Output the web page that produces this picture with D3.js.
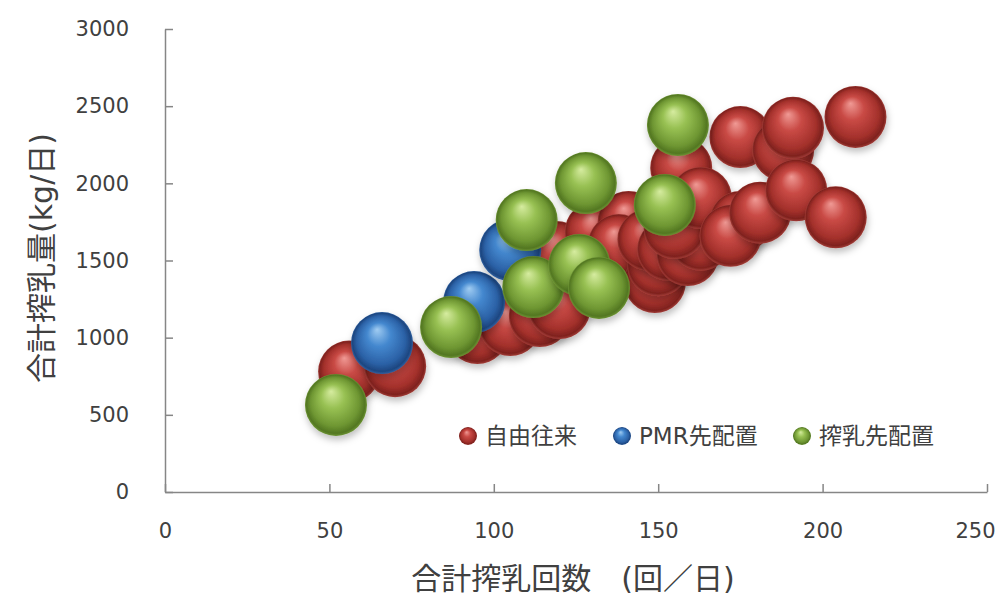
<!DOCTYPE html>
<html>
<head>
<meta charset="utf-8">
<script src="https://cdn.jsdelivr.net/npm/d3@7"></script>
<style>
  html, body { margin: 0; padding: 0; background: #fff; }
  svg { display: block; }
  text { font-family: "DejaVu Sans", "Noto Sans CJK JP", sans-serif; fill: #404040; }
</style>
</head>
<body>
<svg id="chart" width="1005" height="597"></svg>
<script>
// Series names (legend order)
const seriesNames = ["自由往来", "PMR先配置", "搾乳先配置"];

// 自由往来: total milkings per day / total milk yield (kg/day)
const freeX = [56, 70, 95, 105, 114, 120, 119, 131, 141, 138, 149, 150, 147, 153, 159, 163, 155, 157, 163, 175, 172, 175, 181, 188, 191, 192, 204, 210];
const freeY = [780, 815, 1030, 1082, 1140, 1192, 1555, 1685, 1750, 1600, 1360, 1470, 1635, 1570, 1535, 1635, 1710, 2100, 1905, 1750, 1660, 2300, 1810, 2215, 2360, 1955, 1780, 2430];

// PMR先配置
const pmrX = [66, 94, 105];
const pmrY = [965, 1231, 1568];

// 搾乳先配置
const milkX = [52, 87, 112, 110, 128, 126, 132, 152, 156];
const milkY = [564, 1069, 1328, 1762, 2002, 1471, 1322, 1860, 2378];

// Axis ticks and titles
const xTicks = [0, 50, 100, 150, 200, 250];
const yTicks = [0, 500, 1000, 1500, 2000, 2500, 3000];
const xTitle = "合計搾乳回数　(回／日)";
const yTitle = "合計搾乳量(kg/日)";

const svg = d3.select("#chart");
const x = d3.scaleLinear().domain([0, 250]).range([165, 987]);
const y = d3.scaleLinear().domain([0, 3000]).range([492, 29]);
const R = 31;

// Sphere shading per series
const palette = [
  { light: "#f09a95", base: "#c94a45", dark: "#a3302b", edge: "#7f221e", rim: "#a03c37" },
  { light: "#a0ccf2", base: "#4488cf", dark: "#2b61a6", edge: "#1d4680", rim: "#2f60a0" },
  { light: "#d6eca0", base: "#98c153", dark: "#6e9632", edge: "#537722", rim: "#6c9334" }
];

const defs = svg.append("defs");
palette.forEach((c, i) => {
  const g = defs.append("radialGradient")
    .attr("id", "sphere" + i)
    .attr("cx", "50%").attr("cy", "50%").attr("r", "50%")
    .attr("fx", "42%").attr("fy", "28%");
  [[0, c.light], [0.38, c.base], [0.78, c.dark], [0.94, c.edge], [1, c.rim]]
    .forEach(([o, col]) => g.append("stop").attr("offset", o).attr("stop-color", col));
});
const f = defs.append("filter").attr("id", "shadow")
  .attr("x", "-30%").attr("y", "-30%").attr("width", "160%").attr("height", "170%");
f.append("feDropShadow").attr("dx", 1).attr("dy", 4).attr("stdDeviation", 3.5)
  .attr("flood-color", "#000").attr("flood-opacity", 0.25);

// Axes
const axisColor = "#868686";
const fmt = d3.format("d");
const gx = svg.append("g").attr("transform", `translate(0,${y(0)})`)
  .call(d3.axisBottom(x).tickValues(xTicks).tickFormat(fmt).tickSizeInner(-8).tickSizeOuter(0).tickPadding(31));
const gy = svg.append("g").attr("transform", `translate(${x(0)},0)`)
  .call(d3.axisLeft(y).tickValues(yTicks).tickFormat(fmt).tickSizeInner(-8).tickSizeOuter(0).tickPadding(36));
[gx, gy].forEach(g => {
  g.select(".domain").attr("stroke", axisColor).attr("stroke-width", 1.5);
  g.selectAll(".tick line").attr("stroke", axisColor).attr("stroke-width", 1.5);
  g.selectAll(".tick text").attr("font-size", 21).attr("fill", "#4a4a4a")
    .attr("font-family", "DejaVu Sans, sans-serif");
});
// keep the last x label inside the frame
gx.selectAll(".tick text").filter(d => d === 250).attr("dx", -12);

// Bubbles: series drawn in order, later series on top
const series = [
  freeX.map((v, i) => [v, freeY[i]]),
  pmrX.map((v, i) => [v, pmrY[i]]),
  milkX.map((v, i) => [v, milkY[i]])
];
const plot = svg.append("g");
series.forEach((pts, si) => {
  plot.append("g")
    .selectAll("circle").data(pts).join("circle")
    .attr("cx", d => x(d[0])).attr("cy", d => y(d[1])).attr("r", R)
    .attr("fill", `url(#sphere${si})`).attr("filter", "url(#shadow)");
});

// Legend
const legendPos = [468, 622, 802];
const lg = svg.append("g");
seriesNames.forEach((name, i) => {
  lg.append("circle").attr("cx", legendPos[i]).attr("cy", 436).attr("r", 9)
    .attr("fill", `url(#sphere${i})`);
  lg.append("text").attr("x", legendPos[i] + 17).attr("y", 436)
    .attr("dominant-baseline", "central").attr("font-size", 23)
    .attr("font-family", "Noto Sans CJK JP, sans-serif")
    .text(name);
});

// Axis titles
svg.append("text").attr("x", 573).attr("y", 578)
  .attr("text-anchor", "middle").attr("dominant-baseline", "central")
  .attr("font-size", 30).attr("font-family", "Noto Sans CJK JP, sans-serif")
  .text(xTitle);
svg.append("text").attr("transform", "translate(41,258) rotate(-90)")
  .attr("text-anchor", "middle").attr("dominant-baseline", "central")
  .attr("font-size", 30).attr("font-family", "Noto Sans CJK JP, sans-serif")
  .text(yTitle);
</script>
</body>
</html>
